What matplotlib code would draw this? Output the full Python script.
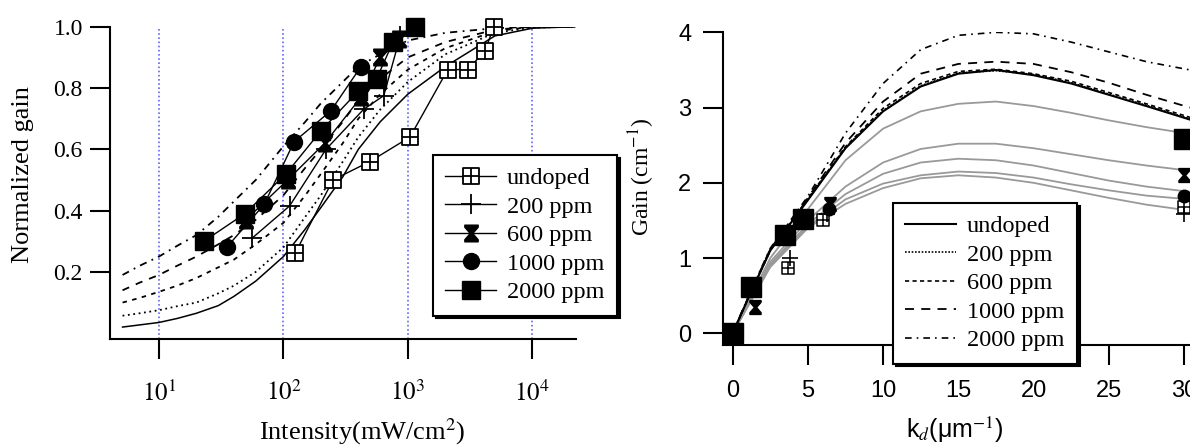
import matplotlib
matplotlib.use("Agg")
import matplotlib.pyplot as plt
from matplotlib.path import Path

plt.rcParams['font.family'] = ['Liberation Serif', 'DejaVu Serif']
plt.rcParams['mathtext.fontset'] = 'stix'

# ---- left panel: normalized gain vs intensity ----
int_undoped = [124, 250, 495, 1040, 2090, 3020, 4150, 4900]
g_undoped   = [0.26, 0.50, 0.56, 0.64, 0.86, 0.86, 0.92, 1.00]
int_200  = [56, 112, 220, 440, 640, 870]
g_200    = [0.31, 0.415, 0.60, 0.73, 0.775, 0.97]
int_600  = [50, 108, 215, 420, 600, 850]
g_600    = [0.37, 0.50, 0.62, 0.77, 0.90, 0.96]
int_1000 = [35, 70, 122, 240, 420]
g_1000   = [0.28, 0.42, 0.625, 0.725, 0.87]
int_2000 = [23, 49, 105, 200, 400, 560, 760, 1140]
g_2000   = [0.30, 0.39, 0.52, 0.66, 0.79, 0.83, 0.95, 1.00]

int_th = [5.1, 7, 10, 14, 20, 30, 40, 60, 100, 150, 200, 300, 400, 600, 1000, 2000, 5000, 10000, 22000]
th_undoped = [0.02, 0.027, 0.035, 0.048, 0.065, 0.09, 0.12, 0.17, 0.25, 0.34, 0.41, 0.51, 0.60, 0.69, 0.78, 0.87, 0.97, 0.995, 1.0]
th_200  = [0.057, 0.065, 0.075, 0.088, 0.10, 0.13, 0.155, 0.20, 0.28, 0.38, 0.45, 0.56, 0.64, 0.73, 0.82, 0.91, 0.98, 0.997, 1.0]
th_600  = [0.10, 0.115, 0.135, 0.155, 0.18, 0.215, 0.24, 0.29, 0.36, 0.45, 0.52, 0.62, 0.70, 0.78, 0.86, 0.93, 0.985, 1.0, 1.0]
th_1000 = [0.14, 0.165, 0.19, 0.22, 0.25, 0.29, 0.32, 0.37, 0.45, 0.54, 0.60, 0.69, 0.76, 0.83, 0.90, 0.95, 0.99, 1.0, 1.0]
th_2000 = [0.19, 0.22, 0.25, 0.285, 0.32, 0.38, 0.43, 0.50, 0.61, 0.69, 0.75, 0.82, 0.87, 0.91, 0.955, 0.98, 0.995, 1.0, 1.0]

# ---- right panel: gain vs k_d ----
k_th = [0, 1, 2.5, 5, 7.5, 10, 12.5, 15, 17.5, 20, 22.5, 25, 27.5, 30.4]
r_undoped = [0, 0.45, 1.10, 1.77, 2.46, 2.95, 3.28, 3.45, 3.50, 3.43, 3.32, 3.17, 3.02, 2.84]
r_200     = [0, 0.45, 1.10, 1.78, 2.47, 2.96, 3.29, 3.46, 3.49, 3.44, 3.33, 3.18, 3.03, 2.85]
r_600     = [0, 0.45, 1.11, 1.79, 2.48, 2.99, 3.32, 3.48, 3.51, 3.45, 3.35, 3.20, 3.05, 2.87]
r_1000    = [0, 0.46, 1.12, 1.80, 2.53, 3.08, 3.45, 3.58, 3.61, 3.58, 3.47, 3.33, 3.17, 3.00]
r_2000    = [0, 0.47, 1.13, 1.82, 2.66, 3.32, 3.77, 3.96, 4.00, 3.98, 3.87, 3.74, 3.61, 3.50]

k_fit = [0, 2.5, 5, 7.5, 10, 12.5, 15, 17.5, 20, 22.5, 25, 27.5, 30.4]
fit_2000 = [0, 1.00, 1.65, 2.30, 2.72, 2.95, 3.05, 3.08, 3.02, 2.93, 2.83, 2.74, 2.65]
fit_600  = [0, 0.95, 1.50, 1.95, 2.27, 2.45, 2.52, 2.52, 2.46, 2.38, 2.30, 2.23, 2.16]
fit_1000 = [0, 0.92, 1.45, 1.85, 2.12, 2.27, 2.32, 2.30, 2.23, 2.13, 2.03, 1.95, 1.88]
fit_und  = [0, 0.90, 1.42, 1.78, 1.99, 2.10, 2.15, 2.13, 2.07, 1.98, 1.90, 1.83, 1.78]
fit_200  = [0, 0.88, 1.40, 1.72, 1.93, 2.06, 2.10, 2.07, 2.00, 1.90, 1.80, 1.71, 1.63]

kd_2000 = [0, 1.25, 3.5, 4.7, 30]
gd_2000 = [0, 0.62, 1.31, 1.52, 2.58]
kd_und  = [3.7, 6.0, 30]
gd_und  = [0.87, 1.50, 1.68]
kd_600  = [1.5, 6.5, 30]
gd_600  = [0.35, 1.72, 2.10]
kd_1000 = [6.4, 30]
gd_1000 = [1.65, 1.82]
kd_200  = [3.8, 6.3, 30]
gd_200  = [1.00, 1.58, 1.58]

labels = ['undoped', '200 ppm', '600 ppm', '1000 ppm', '2000 ppm']

# custom markers
box_plus = Path([(-1, -1), (1, -1), (1, 1), (-1, 1), (-1, -1), (0, -1), (0, 1), (-1, 0), (1, 0)],
                [Path.MOVETO, Path.LINETO, Path.LINETO, Path.LINETO, Path.CLOSEPOLY,
                 Path.MOVETO, Path.LINETO, Path.MOVETO, Path.LINETO])
hourglass = Path([(-0.8, 1), (0.8, 1), (0.8, 0.75), (0.15, 0), (0.8, -0.75), (0.8, -1),
                  (-0.8, -1), (-0.8, -0.75), (-0.15, 0), (-0.8, 0.75), (-0.8, 1)],
                 [Path.MOVETO] + [Path.LINETO] * 9 + [Path.CLOSEPOLY])

fig = plt.figure(figsize=(11.9, 4.47), dpi=100)
ax1 = fig.add_axes([0.0924, 0.2409, 0.3916, 0.6994])
ax2 = fig.add_axes([0.6072, 0.2282, 0.3928, 0.6995])

# left
for xv in [10, 100, 1000, 10000]:
    ax1.plot([xv, xv], [-0.02, 1.0], ls=(0, (1, 1.5)), color='#6464ff', lw=1.2, zorder=1)

ax1.plot(int_th, th_undoped, color='k', lw=1.1, ls='-')
ax1.plot(int_th, th_200, color='k', lw=1.3, ls=(0, (1, 2)))
ax1.plot(int_th, th_600, color='k', lw=1.3, ls=(0, (2.5, 3)))
ax1.plot(int_th, th_1000, color='k', lw=1.3, ls=(0, (4, 4)))
ax1.plot(int_th, th_2000, color='k', lw=1.3, ls=(0, (4, 3, 1, 3)))

h1 = ax1.plot(int_undoped, g_undoped, color='k', lw=1, marker=box_plus, ms=11.5,
              mfc='white', mec='k', mew=1.3, clip_on=False, zorder=5)[0]
h2 = ax1.plot(int_200, g_200, color='k', lw=1, marker='+', ms=14, mew=1.3,
              clip_on=False, zorder=5)[0]
h3 = ax1.plot(int_600, g_600, color='k', lw=1, marker=hourglass, ms=12, mfc='k', mec='k',
              clip_on=False, zorder=5)[0]
h4 = ax1.plot(int_1000, g_1000, color='k', lw=1, marker='o', ms=11.5, mfc='k', mec='k',
              clip_on=False, zorder=5)[0]
h5 = ax1.plot(int_2000, g_2000, color='k', lw=1, marker='s', ms=13, mfc='k', mec='k',
              clip_on=False, zorder=6)[0]

ax1.set_xscale('log')
ax1.set_xlim(4.04, 22400)
ax1.set_ylim(-0.02, 1.0)
ax1.set_xticks([10, 100, 1000, 10000])
ax1.set_xticklabels(['$10^{1}$', '$10^{2}$', '$10^{3}$', '$10^{4}$'])
ax1.xaxis.set_minor_locator(matplotlib.ticker.NullLocator())
ax1.set_yticks([0.2, 0.4, 0.6, 0.8, 1.0])
ax1.set_yticklabels(['0.2', '0.4', '0.6', '0.8', '1.0'])

leg1 = ax1.legend([h1, h2, h3, h4, h5], labels, loc='upper left',
                  bbox_to_anchor=(433 / 1190, 1 - 155 / 447), bbox_transform=fig.transFigure,
                  borderaxespad=0, fancybox=False, framealpha=1, edgecolor='k',
                  shadow={'color': 'k', 'alpha': 1}, fontsize=17.5, labelspacing=0.27,
                  handlelength=2.1, handletextpad=0.45, borderpad=0.5)
leg1.get_frame().set_linewidth(1.5)
leg1.set_zorder(10)

# right
ax2.plot(k_fit, fit_2000, color='#999999', lw=1.3)
ax2.plot(k_fit, fit_600, color='#999999', lw=1.3)
ax2.plot(k_fit, fit_1000, color='#999999', lw=1.3)
ax2.plot(k_fit, fit_und, color='#999999', lw=1.3)
ax2.plot(k_fit, fit_200, color='#999999', lw=1.3)

r1 = ax2.plot(k_th, r_undoped, color='k', lw=1.5, ls='-')[0]
r2 = ax2.plot(k_th, r_200, color='k', lw=1.2, ls=(0, (1, 1)))[0]
r3 = ax2.plot(k_th, r_600, color='k', lw=1.2, ls=(0, (2.5, 2)))[0]
r4 = ax2.plot(k_th, r_1000, color='k', lw=1.3, ls=(0, (5, 4)))[0]
r5 = ax2.plot(k_th, r_2000, color='k', lw=1.2, ls=(0, (4, 3, 1, 3)))[0]

ax2.plot(kd_und, gd_und, ls='none', marker=box_plus, ms=9, mfc='white', mec='k', mew=1.1,
         clip_on=False, zorder=5)
ax2.plot(kd_200, gd_200, ls='none', marker='+', ms=12, mew=1.2, color='k',
         clip_on=False, zorder=5)
ax2.plot(kd_600, gd_600, ls='none', marker=hourglass, ms=10, mfc='k', mec='k',
         clip_on=False, zorder=5)
ax2.plot(kd_1000, gd_1000, ls='none', marker='o', ms=9, mfc='k', mec='k',
         clip_on=False, zorder=5)
ax2.plot(kd_2000, gd_2000, ls='none', marker='s', ms=14, mfc='k', mec='k',
         clip_on=False, zorder=6)

ax2.set_xlim(-0.67, 30.4)
ax2.set_ylim(-0.155, 4.0)
ax2.set_xticks([0, 5, 10, 15, 20, 25, 30])
ax2.set_yticks([0, 1, 2, 3, 4])

leg2 = ax2.legend([r1, r2, r3, r4, r5], labels, loc='upper left',
                  bbox_to_anchor=(893 / 1190, 1 - 203 / 447), bbox_transform=fig.transFigure,
                  borderaxespad=0, fancybox=False, framealpha=1, edgecolor='k',
                  shadow={'color': 'k', 'alpha': 1}, fontsize=17.5, labelspacing=0.27,
                  handlelength=2.1, handletextpad=0.45, borderpad=0.5)
leg2.get_frame().set_linewidth(1.5)
leg2.set_zorder(10)

for ax in (ax1, ax2):
    ax.spines['top'].set_visible(False)
    ax.spines['right'].set_visible(False)
    ax.spines['left'].set_linewidth(1.5)
    ax.spines['bottom'].set_linewidth(1.5)
    ax.tick_params(direction='out', length=14.5, width=1.5, labelsize=17)
    ax.tick_params(axis='y', pad=5)
    ax.tick_params(axis='x', pad=9)

ax1.tick_params(axis='x', labelsize=18, pad=15)
for t in ax2.get_xticklabels() + ax2.get_yticklabels():
    t.set_family('Liberation Sans')
    t.set_fontsize(17)
ax2.tick_params(axis='x', pad=11)
ax2.tick_params(axis='y', pad=8)

fig.text(23 / 1190, 1 - 175 / 447, 'Normalized gain', rotation=90, ha='center', va='center',
         fontsize=19)
fig.text(362 / 1190, 1 - 432 / 447, 'Intensity(mW/cm$^{2}$)', ha='center', va='center',
         fontsize=19)
fig.text(642 / 1190, 1 - 177 / 447, 'Gain (cm$^{-1}$)', rotation=90, ha='center', va='center',
         fontsize=17)
fig.text(955 / 1190, 1 - 430 / 447, 'k$_{d}$(\u03bcm$^{-1}$)', ha='center', va='center',
         fontsize=18, family='Liberation Sans')

fig.savefig('out.png', dpi=100)
